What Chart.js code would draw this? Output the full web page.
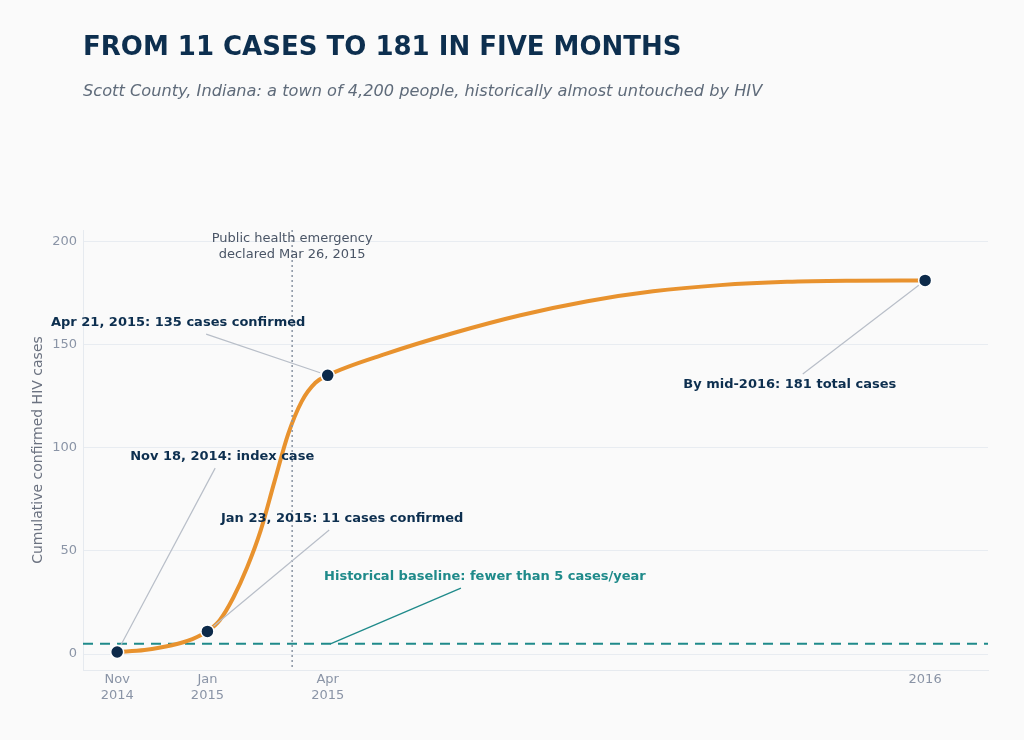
<!DOCTYPE html>
<html>
<head>
<meta charset="utf-8">
<script src="https://cdn.jsdelivr.net/npm/chart.js@4/dist/chart.umd.min.js"></script>
<style>
  html, body { margin: 0; padding: 0; background: #fafafa; }
  body { width: 1024px; height: 740px; position: relative; overflow: hidden; font-family: "DejaVu Sans", sans-serif; }
  #title { position: absolute; left: 83px; top: 33px; font-size: 26px; line-height: 1; font-weight: bold; color: #0d2f4f; }
  #subtitle { position: absolute; left: 83px; top: 83px; font-size: 16.2px; line-height: 1; font-style: italic; color: #5f6b7a; }
  #wrap { position: absolute; left: 0; top: 0; width: 1024px; height: 740px; }
</style>
</head>
<body>
<div id="wrap"><canvas id="myChart" width="1024" height="740"></canvas></div>
<div id="title">FROM 11 CASES TO 181 IN FIVE MONTHS</div>
<div id="subtitle">Scott County, Indiana: a town of 4,200 people, historically almost untouched by HIV</div>
<script>
// x values are days since the index case (Nov 18, 2014)
let curveDays = [0, 20, 40, 55, 66, 75, 85, 95, 105, 115, 125, 135, 145, 154, 197, 246, 295, 344, 392, 441, 490, 540, 591];
let curveCases = [1, 2, 4.3, 7.3, 11, 16.4, 27.4, 41.9, 59.9, 83.4, 106.4, 122.4, 131.4, 135, 145.5, 155.5, 164.1, 170.9, 175.7, 178.7, 180.3, 180.85, 181];

let keyDays = [0, 66, 154, 591];
let keyCases = [1, 11, 135, 181];
let tickLabels = [["Nov", "2014"], ["Jan", "2015"], ["Apr", "2015"], "2016"];

let emergencyDay = 128;   // Mar 26, 2015
let baselineCases = 5;

// annotation text: [label, textDay, textCases, targetDay, targetCases, colour]
let notes = [
	["Apr 21, 2015: 135 cases confirmed", 44.6, 160.3, 154, 135, "#0d2f4f"],
	["Nov 18, 2014: index case", 76.8, 95.4, 0, 1, "#0d2f4f"],
	["Jan 23, 2015: 11 cases confirmed", 164.6, 65.4, 66, 11, "#0d2f4f"],
	["By mid-2016: 181 total cases", 492, 130.3, 591, 181, "#0d2f4f"],
	["Historical baseline: fewer than 5 cases/year", 269, 37.3, 156, 5, "#1f8a8a"]
];

const FONT = "'DejaVu Sans', sans-serif";

let annotations = {
	id: 'annotations',
	beforeDatasetsDraw(chart) {
		let ctx = chart.ctx;
		let y = chart.scales.y;
		let area = chart.chartArea;
		ctx.save();
		// baseline
		ctx.strokeStyle = "#1f8a8a";
		ctx.lineWidth = 2;
		ctx.setLineDash([10, 7]);
		ctx.beginPath();
		ctx.moveTo(area.left, y.getPixelForValue(baselineCases));
		ctx.lineTo(area.right, y.getPixelForValue(baselineCases));
		ctx.stroke();
		ctx.restore();
	},
	afterDatasetsDraw(chart) {
		let ctx = chart.ctx;
		let x = chart.scales.x, y = chart.scales.y;
		let area = chart.chartArea;
		ctx.save();
		// emergency line
		let ex = x.getPixelForValue(emergencyDay);
		ctx.strokeStyle = "#8a94a3";
		ctx.lineWidth = 1.5;
		ctx.setLineDash([2, 3]);
		ctx.beginPath();
		ctx.moveTo(ex, area.top);
		ctx.lineTo(ex, area.bottom);
		ctx.stroke();
		ctx.setLineDash([]);
		ctx.fillStyle = "#4a5566";
		ctx.font = "13px " + FONT;
		ctx.textAlign = "center";
		ctx.textBaseline = "middle";
		ctx.fillText("Public health emergency", ex, 239);
		ctx.fillText("declared Mar 26, 2015", ex, 255);

		for (let n of notes) {
			let tx = x.getPixelForValue(n[1]), ty = y.getPixelForValue(n[2]);
			let px = x.getPixelForValue(n[3]), py = y.getPixelForValue(n[4]);
			let sy = ty + (py > ty ? 11 : -11);
			let sx = tx;
			if (n[0].startsWith("Apr")) sx = tx + 28;
			if (n[0].startsWith("Nov")) sx = tx - 7;
			if (n[0].startsWith("Jan")) sx = tx - 13;
			if (n[0].startsWith("By")) sx = tx + 13;
			if (n[0].startsWith("Hist")) sx = tx - 24;
			let dx = px - sx, dy = py - sy, len = Math.sqrt(dx * dx + dy * dy);
			let teal = n[5] === "#1f8a8a";
			let stop = teal ? 0 : 8;
			ctx.strokeStyle = teal ? "#1f8a8a" : "#b8bec8";
			ctx.lineWidth = teal ? 1.3 : 1.2;
			ctx.beginPath();
			ctx.moveTo(sx, sy);
			ctx.lineTo(px - dx / len * stop, py - dy / len * stop);
			ctx.stroke();
			ctx.fillStyle = n[5];
			ctx.font = "bold 13px " + FONT;
			ctx.fillText(n[0], tx, ty);
		}
		ctx.restore();
	}
};

var ctx = document.getElementById("myChart").getContext('2d');
var myChart = new Chart(ctx, {
	type: 'line',
	data: {
		datasets: [{
			label: 'Key dates',
			data: keyDays.map((d, i) => ({ x: d, y: keyCases[i] })),
			showLine: false,
			pointRadius: 6.5,
			pointBackgroundColor: "#0d2a4a",
			pointBorderColor: "#ffffff",
			pointBorderWidth: 1.5
		}, {
			label: 'Cumulative cases',
			data: curveDays.map((d, i) => ({ x: d, y: curveCases[i] })),
			borderColor: "#e8922e",
			borderWidth: 4,
			pointRadius: 0,
			cubicInterpolationMode: 'monotone',
			fill: false
		}]
	},
	options: {
		responsive: false,
		animation: false,
		devicePixelRatio: 1,
		layout: { padding: { left: 30, top: 230, right: 36, bottom: 0 } },
		plugins: {
			legend: { display: false },
			tooltip: { enabled: false }
		},
		scales: {
			x: {
				type: 'linear',
				min: -25,
				max: 637,
				afterBuildTicks: (scale) => { scale.ticks = keyDays.map(v => ({ value: v })); },
				afterFit: (scale) => { scale.height = 70; },
				ticks: {
					autoSkip: false,
					maxRotation: 0,
					color: "#8a94a6",
					font: { family: FONT, size: 13 },
					padding: 2,
					callback: (value, index) => tickLabels[index]
				},
				grid: { display: false, drawTicks: false },
				border: { color: "#e6eaef" }
			},
			y: {
				min: -7.7,
				max: 205.4,
				afterBuildTicks: (scale) => { scale.ticks = [0, 50, 100, 150, 200].map(v => ({ value: v })); },
				afterFit: (scale) => { scale.width = 53; },
				ticks: {
					color: "#8a94a6",
					font: { family: FONT, size: 13 },
					padding: 6
				},
				grid: { color: "#e8ecf1", drawTicks: false },
				border: { color: "#e6eaef" },
				title: {
					display: true,
					text: "Cumulative confirmed HIV cases",
					color: "#6b7280",
					font: { family: FONT, size: 14 },
					padding: 0
				}
			}
		}
	},
	plugins: [annotations]
});
</script>
</body>
</html>
